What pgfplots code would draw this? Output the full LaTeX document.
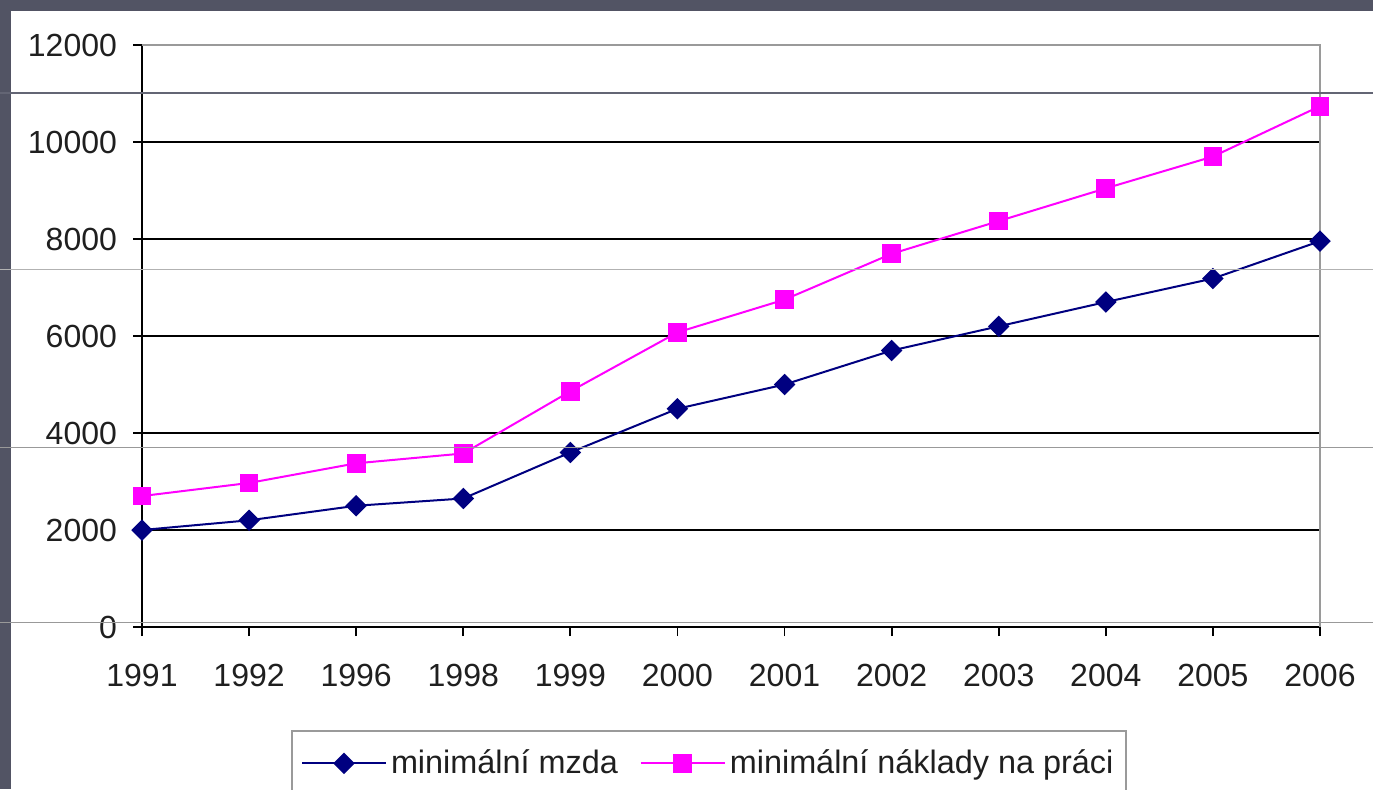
\documentclass[border=0pt]{standalone}
\usepackage{pgfplots}
\pgfplotsset{compat=1.18}
\usepackage{fontspec}
\setmainfont{Liberation Sans}
\definecolor{frame}{HTML}{525464}
\definecolor{navyb}{HTML}{000080}
\definecolor{magp}{HTML}{FF00FF}
\definecolor{bordergray}{HTML}{9A9A9A}
\begin{document}
\begin{tikzpicture}[x=1pt,y=1pt]
\useasboundingbox (0,0) rectangle (686.5,394.5);
\clip (0,0) rectangle (686.5,394.5);
\fill[frame] (0,0) rectangle (686.5,394.5);
\fill[white] (5.5,0) rectangle (686.5,389);
\begin{axis}[
  scale only axis,
  width=589pt, height=291pt,
  at={(71pt,81pt)}, anchor=south west,
  xmin=0, xmax=11, ymin=0, ymax=12000,
  axis x line*=bottom, axis y line*=left,
  axis line style={black, line width=1.2pt},
  xtick={0,...,11},
  xticklabels={1991,1992,1996,1998,1999,2000,2001,2002,2003,2004,2005,2006},
  ytick={0,2000,...,10000},
  extra y ticks={12000},
  extra y tick style={ymajorgrids=false},
  ymajorgrids,
  grid style={black, line width=0.9pt},
  tick align=outside,
  major tick length=4.5pt,
  tick style={black, line width=0.9pt},
  scaled y ticks=false,
  yticklabel style={/pgf/number format/1000 sep={}},
  /pgf/number format/assume math mode=true,
  ticklabel style={font=\fontsize{16}{18}\selectfont, text=black!88},
  xticklabel style={yshift=-10.3pt},
  yticklabel style={xshift=-4.5pt},
  clip=false,
  legend columns=2,
  legend style={at={(0.1265,-0.177)}, anchor=north west, draw=bordergray, line width=1pt,
    font=\fontsize{16.2}{18}\selectfont, text=black!88, inner xsep=4.5pt, inner ysep=7.5pt,
    /tikz/every even column/.append style={column sep=9pt}},
  legend image code/.code={\draw[mark repeat=2,mark phase=2,#1] plot coordinates {(0pt,0pt) (21pt,0pt) (42pt,0pt)};},
]
\addplot[navyb, line width=1pt, mark=square*, mark size=3.3pt, mark options={rotate=45, solid, fill=navyb}]
  coordinates {(0,2000) (1,2200) (2,2500) (3,2650) (4,3600) (5,4500) (6,5000) (7,5700) (8,6200) (9,6700) (10,7185) (11,7955)};
\addlegendentry{minimální mzda}
\addplot[magp, line width=1pt, mark=square*, mark size=4.2pt, mark options={solid, fill=magp}]
  coordinates {(0,2700) (1,2970) (2,3375) (3,3578) (4,4860) (5,6075) (6,6750) (7,7695) (8,8370) (9,9045) (10,9700) (11,10739)};
\addlegendentry{minimální náklady na práci}
\draw[bordergray, line width=1pt] (rel axis cs:0,1) -- (rel axis cs:1,1) -- (rel axis cs:1,0);
\end{axis}
\draw[frame!90, line width=0.6pt] (0,348) -- (686.5,348);
\draw[black!30, line width=0.5pt] (0,259.5) -- (686.5,259.5);
\draw[black!40, line width=0.5pt] (0,171) -- (686.5,171);
\draw[black!40, line width=0.5pt] (0,83.5) -- (686.5,83.5);
\end{tikzpicture}
\end{document}
